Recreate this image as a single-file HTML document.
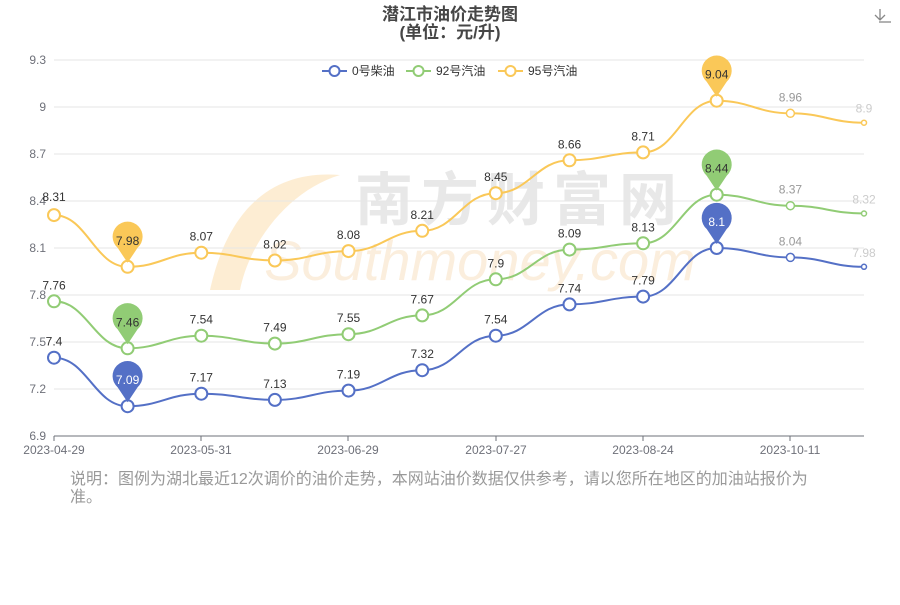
<!DOCTYPE html>
<html><head><meta charset="utf-8"><style>
body{margin:0;background:#fff;font-family:"Liberation Sans","Noto Sans CJK SC",sans-serif;}
</style></head><body>
<svg width="900" height="600" xmlns="http://www.w3.org/2000/svg" font-family="Liberation Sans, Noto Sans CJK SC, sans-serif">
<rect width="900" height="600" fill="#fff"/>
<text x="450" y="20" text-anchor="middle" font-size="17" font-weight="bold" fill="#464646">潜江市油价走势图</text>
<text x="450" y="38" text-anchor="middle" font-size="17" font-weight="bold" fill="#464646">(单位：元/升)</text>
<g stroke="#888" fill="none" stroke-width="1.3"><path d="M880 9v11M875 15l5 5 5-5"/><path d="M879 22h12"/></g>
<text x="520" y="220" text-anchor="middle" font-size="58" font-weight="bold" fill="#e8e8e8" letter-spacing="8">南方财富网</text>
<text x="480" y="280" text-anchor="middle" font-size="56" font-style="italic" fill="#fbeedd">Southmoney.com</text>
<path d="M210 290 C230 200 280 170 340 175 C290 190 250 240 240 290Z" fill="#fde8c8" opacity="0.8"/>
<g stroke="#e6e6e6" stroke-width="1">
<line x1="54" y1="60" x2="864" y2="60"/><line x1="54" y1="107" x2="864" y2="107"/><line x1="54" y1="154" x2="864" y2="154"/><line x1="54" y1="201" x2="864" y2="201"/><line x1="54" y1="248" x2="864" y2="248"/><line x1="54" y1="295" x2="864" y2="295"/><line x1="54" y1="342" x2="864" y2="342"/><line x1="54" y1="389" x2="864" y2="389"/>
</g>
<line x1="54" y1="436" x2="864" y2="436" stroke="#6e7079"/>
<g stroke="#6e7079"><line x1="54" y1="436" x2="54" y2="441"/><line x1="201" y1="436" x2="201" y2="441"/><line x1="348" y1="436" x2="348" y2="441"/><line x1="496" y1="436" x2="496" y2="441"/><line x1="643" y1="436" x2="643" y2="441"/><line x1="790" y1="436" x2="790" y2="441"/></g>
<g font-size="12" fill="#6e7079" text-anchor="end">
<text x="46" y="64">9.3</text><text x="46" y="111">9</text><text x="46" y="158">8.7</text><text x="46" y="205">8.4</text><text x="46" y="252">8.1</text><text x="46" y="299">7.8</text><text x="46" y="346">7.5</text><text x="46" y="393">7.2</text><text x="46" y="440">6.9</text>
</g>
<g font-size="12" fill="#6e7079" text-anchor="middle">
<text x="54" y="454">2023-04-29</text><text x="201" y="454">2023-05-31</text><text x="348" y="454">2023-06-29</text><text x="496" y="454">2023-07-27</text><text x="643" y="454">2023-08-24</text><text x="790" y="454">2023-10-11</text>
</g>
<g font-size="12" fill="#333">
<line x1="322" y1="71" x2="347" y2="71" stroke="#5470c6" stroke-width="2"/><circle cx="334.5" cy="71" r="5" fill="#fff" stroke="#5470c6" stroke-width="2"/><text x="352" y="75">0号柴油</text>
<line x1="406" y1="71" x2="431" y2="71" stroke="#91cc75" stroke-width="2"/><circle cx="418.5" cy="71" r="5" fill="#fff" stroke="#91cc75" stroke-width="2"/><text x="436" y="75">92号汽油</text>
<line x1="498" y1="71" x2="523" y2="71" stroke="#fac858" stroke-width="2"/><circle cx="510.5" cy="71" r="5" fill="#fff" stroke="#fac858" stroke-width="2"/><text x="528" y="75">95号汽油</text>
</g>

<!-- lines -->
<g fill="none" stroke-width="2">
<path stroke="#5470c6" d="M54 357.7 C87 357.7 94.6 406.2 127.6 406.2 C160.6 406.2 168.3 393.7 201.3 393.7 C234.3 393.7 241.9 399.9 274.9 399.9 C307.9 399.9 315.5 390.6 348.5 390.6 C381.5 390.6 389.2 370.2 422.2 370.2 C455.2 370.2 462.8 335.7 495.8 335.7 C528.8 335.7 536.5 304.4 569.5 304.4 C602.5 304.4 610.1 296.6 643.1 296.6 C676.1 296.6 683.7 248 716.7 248 C749.7 248 757.4 257.4 790.4 257.4 C823.4 257.4 831 266.8 864 266.8"/>
<path stroke="#91cc75" d="M54 301.3 C87 301.3 94.6 348.3 127.6 348.3 C160.6 348.3 168.3 335.7 201.3 335.7 C234.3 335.7 241.9 343.6 274.9 343.6 C307.9 343.6 315.5 334.2 348.5 334.2 C381.5 334.2 389.2 315.4 422.2 315.4 C455.2 315.4 462.8 279.3 495.8 279.3 C528.8 279.3 536.5 249.6 569.5 249.6 C602.5 249.6 610.1 243.3 643.1 243.3 C676.1 243.3 683.7 194.7 716.7 194.7 C749.7 194.7 757.4 205.7 790.4 205.7 C823.4 205.7 831 213.5 864 213.5"/>
<path stroke="#fac858" d="M54 215.1 C87 215.1 94.6 266.8 127.6 266.8 C160.6 266.8 168.3 252.7 201.3 252.7 C234.3 252.7 241.9 260.5 274.9 260.5 C307.9 260.5 315.5 251.1 348.5 251.1 C381.5 251.1 389.2 230.8 422.2 230.8 C455.2 230.8 462.8 193.2 495.8 193.2 C528.8 193.2 536.5 160.3 569.5 160.3 C602.5 160.3 610.1 152.4 643.1 152.4 C676.1 152.4 683.7 100.7 716.7 100.7 C749.7 100.7 757.4 113.3 790.4 113.3 C823.4 113.3 831 122.7 864 122.7"/>
</g>

<!-- points -->
<g fill="#fff" stroke-width="2">
<g stroke="#5470c6">
<circle cx="54" cy="357.7" r="6"/><circle cx="127.6" cy="406.2" r="6"/><circle cx="201.3" cy="393.7" r="6"/><circle cx="274.9" cy="399.9" r="6"/><circle cx="348.5" cy="390.6" r="6"/><circle cx="422.2" cy="370.2" r="6"/><circle cx="495.8" cy="335.7" r="6"/><circle cx="569.5" cy="304.4" r="6"/><circle cx="643.1" cy="296.6" r="6"/><circle cx="716.7" cy="248" r="6"/><circle cx="790.4" cy="257.4" r="4" stroke-width="1.5"/><circle cx="864" cy="266.8" r="2.5" stroke-width="1.5"/>
</g>
<g stroke="#91cc75">
<circle cx="54" cy="301.3" r="6"/><circle cx="127.6" cy="348.3" r="6"/><circle cx="201.3" cy="335.7" r="6"/><circle cx="274.9" cy="343.6" r="6"/><circle cx="348.5" cy="334.2" r="6"/><circle cx="422.2" cy="315.4" r="6"/><circle cx="495.8" cy="279.3" r="6"/><circle cx="569.5" cy="249.6" r="6"/><circle cx="643.1" cy="243.3" r="6"/><circle cx="716.7" cy="194.7" r="6"/><circle cx="790.4" cy="205.7" r="4" stroke-width="1.5"/><circle cx="864" cy="213.5" r="2.5" stroke-width="1.5"/>
</g>
<g stroke="#fac858">
<circle cx="54" cy="215.1" r="6"/><circle cx="127.6" cy="266.8" r="6"/><circle cx="201.3" cy="252.7" r="6"/><circle cx="274.9" cy="260.5" r="6"/><circle cx="348.5" cy="251.1" r="6"/><circle cx="422.2" cy="230.8" r="6"/><circle cx="495.8" cy="193.2" r="6"/><circle cx="569.5" cy="160.3" r="6"/><circle cx="643.1" cy="152.4" r="6"/><circle cx="716.7" cy="100.7" r="6"/><circle cx="790.4" cy="113.3" r="4" stroke-width="1.5"/><circle cx="864" cy="122.7" r="2.5" stroke-width="1.5"/>
</g>
</g>

<!-- labels -->
<g font-size="12" fill="#333" text-anchor="middle">
<text x="54" y="345.7">7.4</text><text x="201.3" y="381.7">7.17</text><text x="274.9" y="387.9">7.13</text><text x="348.5" y="378.6">7.19</text><text x="422.2" y="358.2">7.32</text><text x="495.8" y="323.7">7.54</text><text x="569.5" y="292.4">7.74</text><text x="643.1" y="284.6">7.79</text><text x="790.4" y="245.4" fill="#999">8.04</text><text x="864" y="256.8" fill="#ccc">7.98</text>
<text x="54" y="289.3">7.76</text><text x="201.3" y="323.7">7.54</text><text x="274.9" y="331.6">7.49</text><text x="348.5" y="322.2">7.55</text><text x="422.2" y="303.4">7.67</text><text x="495.8" y="267.3">7.9</text><text x="569.5" y="237.6">8.09</text><text x="643.1" y="231.3">8.13</text><text x="790.4" y="193.7" fill="#999">8.37</text><text x="864" y="203.5" fill="#ccc">8.32</text>
<text x="54" y="201.1">8.31</text><text x="201.3" y="240.7">8.07</text><text x="274.9" y="248.5">8.02</text><text x="348.5" y="239.1">8.08</text><text x="422.2" y="218.8">8.21</text><text x="495.8" y="181.2">8.45</text><text x="569.5" y="148.3">8.66</text><text x="643.1" y="140.4">8.71</text><text x="790.4" y="101.3" fill="#999">8.96</text><text x="864" y="112.7" fill="#ccc">8.9</text>
</g>

<!-- pins -->
<g font-size="12" fill="#fff" text-anchor="middle">
<g transform="translate(127.6,406.2)"><path d="M0 -4 L-10 -19 A15 15 0 1 1 10 -19Z" fill="#5470c6"/><text y="-22">7.09</text></g>
<g transform="translate(716.7,248)"><path d="M0 -4 L-10 -19 A15 15 0 1 1 10 -19Z" fill="#5470c6"/><text y="-22">8.1</text></g>
<g transform="translate(127.6,348.3)"><path d="M0 -4 L-10 -19 A15 15 0 1 1 10 -19Z" fill="#91cc75"/><text y="-22" fill="#333">7.46</text></g>
<g transform="translate(716.7,194.7)"><path d="M0 -4 L-10 -19 A15 15 0 1 1 10 -19Z" fill="#91cc75"/><text y="-22" fill="#333">8.44</text></g>
<g transform="translate(127.6,266.8)"><path d="M0 -4 L-10 -19 A15 15 0 1 1 10 -19Z" fill="#fac858"/><text y="-22" fill="#333">7.98</text></g>
<g transform="translate(716.7,100.7)"><path d="M0 -4 L-10 -19 A15 15 0 1 1 10 -19Z" fill="#fac858"/><text y="-22" fill="#333">9.04</text></g>
</g>

<text x="70" y="484" font-size="16" fill="#999">说明：图例为湖北最近12次调价的油价走势，本网站油价数据仅供参考，请以您所在地区的加油站报价为</text>
<text x="70" y="502" font-size="16" fill="#999">准。</text>
</svg>
</body></html>
